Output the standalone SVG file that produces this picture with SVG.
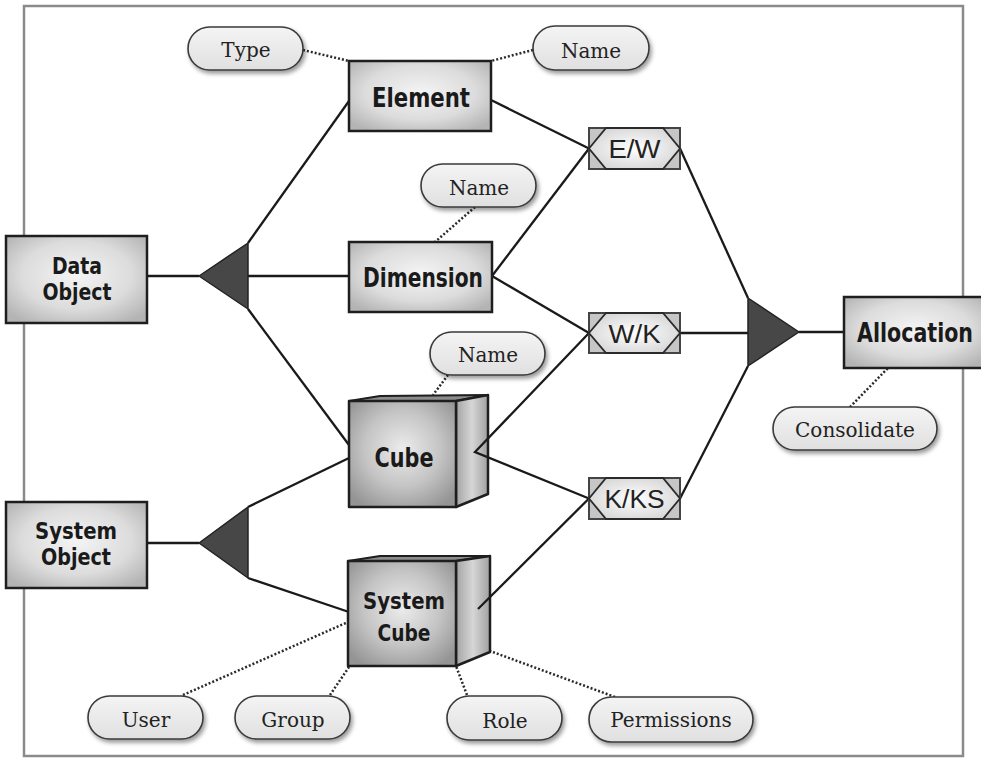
<svg xmlns="http://www.w3.org/2000/svg" width="981" height="758" viewBox="0 0 981 758">
<defs>
  <radialGradient id="boxg" cx="0.5" cy="0.45" r="0.65">
    <stop offset="0" stop-color="#f4f4f4"/>
    <stop offset="0.6" stop-color="#dcdcdc"/>
    <stop offset="1" stop-color="#b4b4b4"/>
  </radialGradient>
  <radialGradient id="cubeg" cx="0.5" cy="0.45" r="0.65">
    <stop offset="0" stop-color="#ececec"/>
    <stop offset="0.55" stop-color="#c4c4c4"/>
    <stop offset="1" stop-color="#949494"/>
  </radialGradient>
  <linearGradient id="sideg" x1="0" y1="0" x2="1" y2="0">
    <stop offset="0" stop-color="#a4a4a4"/>
    <stop offset="0.5" stop-color="#d6d6d6"/>
    <stop offset="1" stop-color="#a0a0a0"/>
  </linearGradient>
  <radialGradient id="hexg" cx="0.5" cy="0.5" r="0.6">
    <stop offset="0" stop-color="#ffffff"/>
    <stop offset="1" stop-color="#d4d4d4"/>
  </radialGradient>
  <linearGradient id="pillg" x1="0" y1="0" x2="0" y2="1">
    <stop offset="0" stop-color="#f4f4f4"/>
    <stop offset="1" stop-color="#e0e0e0"/>
  </linearGradient>
  <filter id="sh" x="-20%" y="-30%" width="150%" height="180%">
    <feDropShadow dx="2" dy="3" stdDeviation="2" flood-color="#000" flood-opacity="0.4"/>
  </filter>
</defs>
<style>
  .box{fill:url(#boxg);stroke:#1e1e1e;stroke-width:2.5}
  .front{fill:url(#cubeg);stroke:#1e1e1e;stroke-width:2.5;stroke-linejoin:round}
  .side{fill:url(#sideg);stroke:#1e1e1e;stroke-width:2.5;stroke-linejoin:round}
  .top{fill:#8c8c8c;stroke:#1e1e1e;stroke-width:2;stroke-linejoin:round}
  .lbl{font-family:"DejaVu Sans Condensed","DejaVu Sans",sans-serif;font-weight:bold;font-size:26px;fill:#1a1a1a;text-anchor:middle}
  .lbl2{font-family:"DejaVu Sans Condensed","DejaVu Sans",sans-serif;font-weight:bold;font-size:23px;fill:#1a1a1a;text-anchor:middle}
  .pill{fill:url(#pillg);stroke:#3a3a3a;stroke-width:1.6;filter:url(#sh)}
  .ptx{font-family:"DejaVu Serif",serif;font-size:20px;fill:#222;text-anchor:middle}
  .hbox{fill:#c6c6c6;stroke:#444;stroke-width:2}
  .hex{fill:url(#hexg);stroke:#2a2a2a;stroke-width:1.8}
  .htx{font-family:"Liberation Sans",Arial,sans-serif;font-size:26px;fill:#222;text-anchor:middle}
  .tri{fill:#474747;stroke:#222;stroke-width:1.5;stroke-linejoin:round}
  .ln{stroke:#1a1a1a;stroke-width:2.3;fill:none}
  .dot{stroke:#2a2a2a;stroke-width:2.5;stroke-dasharray:2 2;fill:none}
</style>
<rect x="24" y="6" width="939" height="750" fill="#fff" stroke="#8a8a8a" stroke-width="2.5"/>

<g id="connectors">
  <line class="ln" x1="248" y1="243" x2="349" y2="101"/>
  <line class="ln" x1="248" y1="276" x2="349" y2="276"/>
  <line class="ln" x1="248" y1="309" x2="349" y2="445"/>
  <line class="ln" x1="147" y1="276" x2="199" y2="276"/>
  <line class="ln" x1="491" y1="100" x2="589" y2="148.5"/>
  <line class="ln" x1="492" y1="276" x2="589" y2="148.5"/>
  <line class="ln" x1="492" y1="276" x2="589" y2="333"/>
  <line class="ln" x1="147" y1="543" x2="199" y2="543"/>
  <line class="ln" x1="248" y1="507" x2="349" y2="458"/>
  <line class="ln" x1="248" y1="578" x2="349" y2="612"/>
  <line class="ln" x1="680" y1="148.5" x2="748" y2="298"/>
  <line class="ln" x1="680" y1="333" x2="748" y2="333"/>
  <line class="ln" x1="680" y1="498.5" x2="748" y2="366"/>
  <line class="ln" x1="799" y1="332" x2="844" y2="332"/>
  <line class="dot" x1="303" y1="50" x2="349" y2="61"/>
  <line class="dot" x1="533" y1="50" x2="491" y2="61"/>
  <line class="dot" x1="475" y1="207" x2="435" y2="242"/>
  <line class="dot" x1="448" y1="375" x2="433" y2="395"/>
  <line class="dot" x1="850" y1="407" x2="888" y2="368"/>
  <line class="dot" x1="183" y1="695" x2="348" y2="622"/>
  <line class="dot" x1="330" y1="695" x2="349" y2="667"/>
  <line class="dot" x1="467" y1="695" x2="456" y2="666"/>
  <line class="dot" x1="615" y1="697" x2="490" y2="651"/>
</g>

<g id="triangle-data"><polygon class="tri" points="199,276 248,243 248,309"/></g>
<g id="triangle-system"><polygon class="tri" points="199,543 248,507 248,578"/></g>
<g id="triangle-alloc"><polygon class="tri" points="799,332 748,298 748,366"/></g>

<g id="element">
  <rect class="box" x="349" y="61" width="142" height="70"/>
  <text class="lbl" x="421" y="107" textLength="98" lengthAdjust="spacingAndGlyphs">Element</text>
</g>
<g id="dimension">
  <rect class="box" x="349" y="242" width="143" height="70"/>
  <text class="lbl" x="423" y="287" textLength="120" lengthAdjust="spacingAndGlyphs">Dimension</text>
</g>
<g id="data-object">
  <rect class="box" x="6" y="236" width="141" height="87"/>
  <text class="lbl2" x="77" y="274" textLength="50" lengthAdjust="spacingAndGlyphs">Data</text>
  <text class="lbl2" x="77" y="300" textLength="69" lengthAdjust="spacingAndGlyphs">Object</text>
</g>
<g id="system-object">
  <rect class="box" x="6" y="502" width="141" height="86"/>
  <text class="lbl2" x="76" y="539" textLength="82" lengthAdjust="spacingAndGlyphs">System</text>
  <text class="lbl2" x="76" y="565" textLength="70" lengthAdjust="spacingAndGlyphs">Object</text>
</g>
<g id="allocation">
  <rect class="box" x="844" y="297" width="142" height="71"/>
  <text class="lbl" x="915" y="342" textLength="116" lengthAdjust="spacingAndGlyphs">Allocation</text>
</g>

<g id="cube">
  <polygon class="top" points="349,401 380,396 488,395 456,401"/>
  <polygon class="side" points="456,401 488,395 488,494 456,507"/>
  <rect class="front" x="349" y="401" width="107" height="106"/>
  <text class="lbl" x="404" y="467" textLength="59" lengthAdjust="spacingAndGlyphs">Cube</text>
</g>
<g id="system-cube">
  <polygon class="top" points="348,561 380,556 490,556 456,561"/>
  <polygon class="side" points="456,561 490,556 490,652 456,666"/>
  <rect class="front" x="348" y="561" width="108" height="105"/>
  <text class="lbl2" x="404" y="609" textLength="82" lengthAdjust="spacingAndGlyphs">System</text>
  <text class="lbl2" x="404" y="641" textLength="53" lengthAdjust="spacingAndGlyphs">Cube</text>
</g>
<g id="cube-links">
  <polyline class="ln" points="589,333 475,452 589,498.5"/>
  <line class="ln" x1="478" y1="609" x2="589" y2="498.5"/>
</g>

<g id="ew">
  <rect class="hbox" x="589" y="128" width="91" height="41"/>
  <polygon class="hex" points="589,148.5 606,128 663,128 680,148.5 663,169 606,169"/>
  <text class="htx" x="634.5" y="158" textLength="52" lengthAdjust="spacingAndGlyphs">E/W</text>
</g>
<g id="wk">
  <rect class="hbox" x="589" y="313" width="91" height="40"/>
  <polygon class="hex" points="589,333 606,313 663,313 680,333 663,353 606,353"/>
  <text class="htx" x="634.5" y="343" textLength="52" lengthAdjust="spacingAndGlyphs">W/K</text>
</g>
<g id="kks">
  <rect class="hbox" x="589" y="478" width="91" height="41"/>
  <polygon class="hex" points="589,498.5 606,478 663,478 680,498.5 663,519 606,519"/>
  <text class="htx" x="634.5" y="508" textLength="60" lengthAdjust="spacingAndGlyphs">K/KS</text>
</g>

<g id="attr-type"><rect class="pill" x="188" y="27" width="115" height="43" rx="21.5"/><text class="ptx" x="246" y="57">Type</text></g>
<g id="attr-element-name"><rect class="pill" x="533" y="26" width="116" height="44" rx="22"/><text class="ptx" x="591" y="58">Name</text></g>
<g id="attr-dimension-name"><rect class="pill" x="421" y="164" width="115" height="43" rx="21.5"/><text class="ptx" x="479" y="195">Name</text></g>
<g id="attr-cube-name"><rect class="pill" x="430" y="332" width="115" height="43" rx="21.5"/><text class="ptx" x="488" y="362">Name</text></g>
<g id="attr-consolidate"><rect class="pill" x="773" y="407" width="164" height="43" rx="21.5"/><text class="ptx" x="855" y="437">Consolidate</text></g>
<g id="attr-user"><rect class="pill" x="88" y="696" width="115" height="43" rx="21.5"/><text class="ptx" x="146" y="727">User</text></g>
<g id="attr-group"><rect class="pill" x="235" y="696" width="115" height="43" rx="21.5"/><text class="ptx" x="293" y="727">Group</text></g>
<g id="attr-role"><rect class="pill" x="447" y="696" width="115" height="44" rx="22"/><text class="ptx" x="505" y="728">Role</text></g>
<g id="attr-permissions"><rect class="pill" x="589" y="697" width="164" height="45" rx="22.5"/><text class="ptx" x="671" y="727">Permissions</text></g>
</svg>
